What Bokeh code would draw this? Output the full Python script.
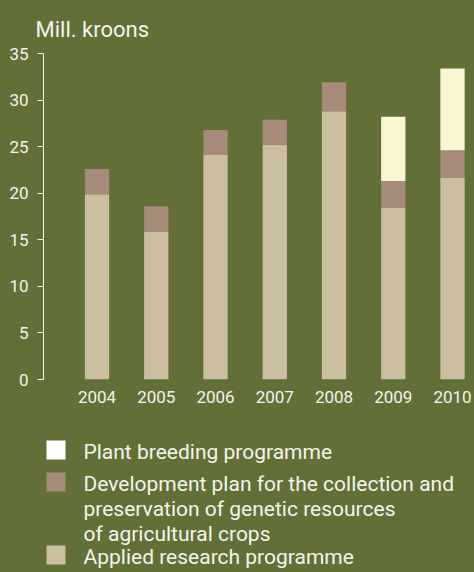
from bokeh.plotting import figure
from bokeh.layouts import column
from bokeh.models import Range1d, FixedTicker, ColumnDataSource
from bokeh.embed import file_html
from bokeh.resources import INLINE
from bokeh.core.properties import value

# ---- data ----
years = [2004, 2005, 2006, 2007, 2008, 2009, 2010]
applied = [19.9, 15.9, 24.1, 25.2, 28.8, 18.4, 21.7]
development = [2.7, 2.7, 2.7, 2.7, 3.1, 2.9, 2.9]
plant_breeding = [0, 0, 0, 0, 0, 6.9, 8.8]
y_ticks = [0, 5, 10, 15, 20, 25, 30, 35]
unit_label = "Mill. kroons"
legend_lines = [
    ["Plant breeding programme"],
    ["Development plan for the collection and",
     "preservation of genetic resources",
     "of agricultural crops"],
    ["Applied research programme"],
]

# ---- style ----
BG = "#626f37"
C_APPLIED = "#ccbea1"
C_DEV = "#a68b7b"
C_PLANT = "#faf6d3"
C_LEG_PLANT = "#ffffff"
TXT = "#f4f4ec"
FONT = "Roboto"
W = 474
H_CHART = 420
H_LEG = 152
LEFT = 43

src = ColumnDataSource(dict(year=years, applied=applied,
                            development=development, plant=plant_breeding))

p = figure(width=W, height=H_CHART, x_range=Range1d(2003.097, 2010.371),
           y_range=Range1d(0, 35), toolbar_location=None, output_backend="svg",
           min_border_left=LEFT, min_border_right=0, min_border_top=53,
           min_border_bottom=41, background_fill_color=BG, border_fill_color=BG,
           outline_line_color=None)

p.vbar_stack(["applied", "development", "plant"], x="year", width=0.41,
             color=[C_APPLIED, C_DEV, C_PLANT], line_color=None, source=src)

p.grid.visible = False

p.title.text = unit_label
p.title.text_font = FONT
p.title.text_font_size = "22px"
p.title.text_font_style = "normal"
p.title.text_color = TXT
p.title.align = "left"
p.title.vertical_align = "top"
p.title.offset = -8
p.title.standoff = 20

ya = p.yaxis[0]
ya.ticker = FixedTicker(ticks=y_ticks)
ya.axis_line_color = TXT
ya.major_tick_line_color = TXT
ya.major_tick_out = 6
ya.major_tick_in = 0
ya.minor_tick_line_color = None
ya.major_label_standoff = 9
ya.major_label_text_font = FONT
ya.major_label_text_font_size = "17px"
ya.major_label_text_color = TXT

xa = p.xaxis[0]
xa.ticker = FixedTicker(ticks=years)
xa.axis_line_color = None
xa.major_tick_line_color = None
xa.minor_tick_line_color = None
xa.major_tick_out = 0
xa.major_tick_in = 0
xa.major_label_standoff = 11
xa.major_label_text_font = FONT
xa.major_label_text_font_size = "17px"
xa.major_label_text_color = TXT

# ---- legend panel (data units = page pixels) ----
lf = figure(width=W, height=H_LEG, x_range=Range1d(LEFT, W),
            y_range=Range1d(H_CHART + H_LEG, H_CHART),
            toolbar_location=None, output_backend="svg",
            min_border_left=LEFT, min_border_right=0, min_border_top=0,
            min_border_bottom=0,
            x_axis_location=None, y_axis_location=None,
            background_fill_color=BG, border_fill_color=BG, outline_line_color=None)
lf.grid.visible = False

first_baseline = 451
line_steps = [[0], [32, 25, 25], [23]]
sq_colors = [C_LEG_PLANT, C_DEV, C_APPLIED]
SQ = 19
SQ_SHIFT = 8  # square bottom relative to text anchor

tx, ty, tt = [], [], []
sqy = []
b = first_baseline
for i, lines in enumerate(legend_lines):
    for j, line in enumerate(lines):
        if not (i == 0 and j == 0):
            b += line_steps[i][j]
        if j == 0:
            sqy.append(b + SQ_SHIFT - SQ / 2)
        tx.append(83)
        ty.append(b)
        tt.append(line)

lf.rect(x=[55.5] * len(sqy), y=sqy, width=SQ, height=SQ,
        fill_color=sq_colors, line_color=None)
lf.text(x=tx, y=ty, text=tt, text_font=value(FONT), text_font_size="21px",
        text_color=TXT, text_baseline="alphabetic", text_align="left")

layout = column(p, lf, spacing=0)
layout.background = BG

html = file_html(layout, INLINE)
html = html.replace("<body>", '<body style="background-color:%s;">' % BG)
open("out.html", "w").write(html)
